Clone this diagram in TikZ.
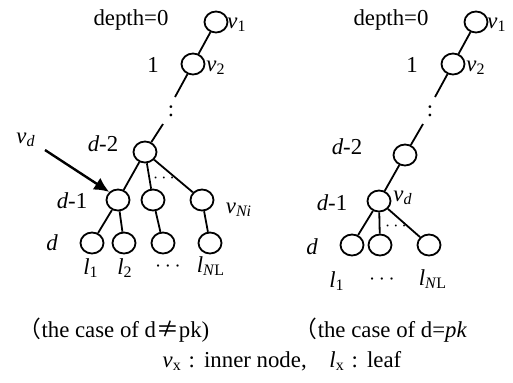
\documentclass[tikz,border=0pt]{standalone}
\usepackage{fontspec}
\setmainfont{Liberation Serif}
\newfontfamily\cjk{Noto Sans CJK JP}
\usetikzlibrary{shapes.geometric,arrows.meta}
\newcommand{\lab}[2]{\textit{#1}\textsubscript{#2}}
\newcommand{\wcolon}{\hspace{0.3em}:\hspace{0.4em}}

\begin{document}
\begin{tikzpicture}[x=0.5pt, y=-0.5pt, >={Latex[length=7.5pt,width=7pt]},
  vert/.style={draw, ellipse, minimum width=11.5pt, minimum height=10.5pt, inner sep=0pt, line width=0.9pt},
  lbl/.style={font=\fontsize{11.4}{13}\selectfont, inner sep=0pt},
  edge/.style={line width=0.9pt}]
\useasboundingbox (0,0) rectangle (513,382);
% left tree (d != pk)
\node[vert] (a1) at (216,22) {};
\node[vert] (a2) at (193,64) {};
\coordinate (a2e) at (175,97);
\coordinate (a3s) at (163,124);
\node[vert] (a3) at (145,152) {};
\node[vert] (a4) at (118,200) {};
\node[vert] (a5) at (153,200) {};
\node[vert] (a6) at (202,200) {};
\node[vert] (a7) at (92,243) {};
\node[vert] (a8) at (124,243) {};
\node[vert] (a9) at (163,243) {};
\node[vert] (a10) at (210,243) {};
\draw[edge] (a1) -- (a2);
\draw[edge] (a2) -- (a2e);
\draw[edge] (a3s) -- (a3);
\draw[edge] (a3) -- (a4);
\draw[edge] (a3) -- (a5);
\draw[edge] (a3) -- (a6);
\draw[edge] (a4) -- (a7);
\draw[edge] (a4) -- (a8);
\draw[edge] (a5) -- (a9);
\draw[edge] (a6) -- (a10);
\node[lbl] (adots) at (171,111) {:};
\node[lbl, font=\small] (adots2) at (164,178) {$\cdots$};
\node[lbl] (ad0) at (131,20) {depth=0};
\node[lbl] (ad1) at (153,65) {1};
\node[lbl] (ad2) at (103,144) {\textit{d}-2};
\node[lbl] (ad3) at (72,201) {\textit{d}-1};
\node[lbl] (ad4) at (52,243) {\textit{d}};
\node[lbl, anchor=west] (av1) at (227,25) {\lab{v}{1}};
\node[lbl, anchor=west] (av2) at (206,68) {\lab{v}{2}};
\node[lbl] (avn) at (239,210) {\lab{v}{\textit{Ni}}};
\node[lbl] (avd) at (26,140) {\lab{v}{\textit{d}}};
\coordinate (arr) at (45,150);
\draw[edge, line width=1.2pt, ->] (arr) -- (a4.north west);
\node[lbl] (al1) at (91,268) {\lab{l}{1}};
\node[lbl] (al2) at (125,268) {\lab{l}{2}};
\node[lbl] (ald) at (168,267) {$\cdots$};
\node[lbl] (aln) at (211,266) {\lab{l}{\textit{N}L}};
% right tree (d = pk)
\node[vert] (b1) at (476,22) {};
\node[vert] (b2) at (453,64) {};
\coordinate (b2e) at (435,97);
\coordinate (b3s) at (423,124);
\node[vert] (b3) at (405,155) {};
\node[vert] (b4) at (379,201) {};
\node[vert] (b5) at (352,245) {};
\node[vert] (b6) at (380,245) {};
\node[vert] (b7) at (429,245) {};
\draw[edge] (b1) -- (b2);
\draw[edge] (b2) -- (b2e);
\draw[edge] (b3s) -- (b3);
\draw[edge] (b3) -- (b4);
\draw[edge] (b4) -- (b5);
\draw[edge] (b4) -- (b6);
\draw[edge] (b4) -- (b7);
\node[lbl] (bdots) at (430,111) {:};
\node[lbl, font=\small] (bdots2) at (396,226) {$\cdots$};
\node[lbl] (bd0) at (391,20) {depth=0};
\node[lbl] (bd1) at (412,65) {1};
\node[lbl] (bd2) at (347,147) {\textit{d}-2};
\node[lbl] (bd3) at (332,203) {\textit{d}-1};
\node[lbl] (bd4) at (312,247) {\textit{d}};
\node[lbl, anchor=west] (bv1) at (487,25) {\lab{v}{1}};
\node[lbl, anchor=west] (bv2) at (466,68) {\lab{v}{2}};
\node[lbl] (bvd) at (403,198) {\lab{v}{\textit{d}}};
\node[lbl] (bl1) at (337,281) {\lab{l}{1}};
\node[lbl] (bld) at (382,280) {$\cdots$};
\node[lbl] (bln) at (433,279) {\lab{l}{\textit{N}L}};
% captions
\node[lbl] (capa) at (114,330) {{\cjk （}the case of d{\cjk ≠}pk)};
\node[lbl] (capb) at (381,330) {{\cjk （}the case of d=\textit{pk}};
\node[lbl] (key) at (282,361) {\lab{v}{x}\wcolon inner node,{\cjk 　}\lab{l}{x}\wcolon leaf};
\end{tikzpicture}
\end{document}
